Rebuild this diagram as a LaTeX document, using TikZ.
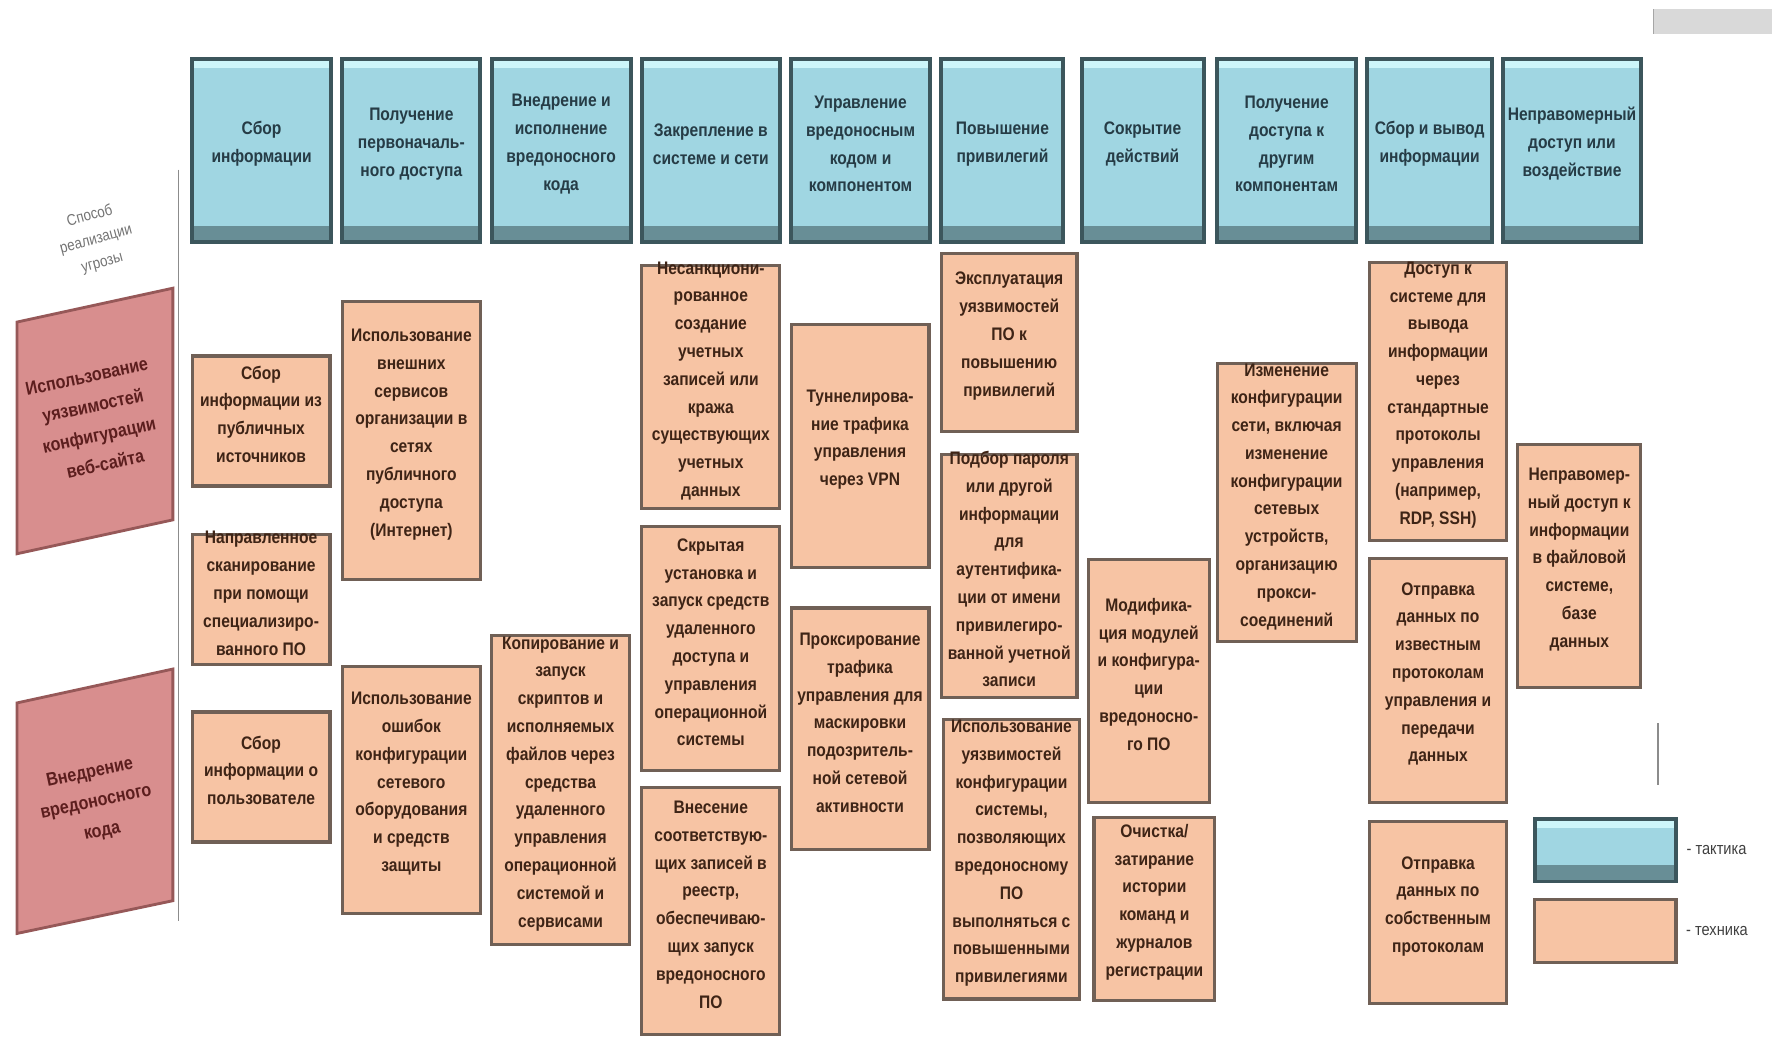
\documentclass[tikz,border=0pt]{standalone}
\usepackage{fontspec}
\setmainfont{Liberation Sans}[FakeStretch=0.86]
\usetikzlibrary{fit,positioning}

\definecolor{tacfill}{RGB}{160,214,226}
\definecolor{tactop}{RGB}{205,246,250}
\definecolor{tacbot}{RGB}{104,142,150}
\definecolor{tacedge}{RGB}{60,86,92}
\definecolor{tactext}{RGB}{38,60,70}
\definecolor{techfill}{RGB}{247,196,164}
\definecolor{techedge}{RGB}{112,96,86}
\definecolor{techtext}{RGB}{62,36,22}
\definecolor{methfill}{RGB}{216,142,142}
\definecolor{methedge}{RGB}{150,88,88}
\definecolor{methtext}{RGB}{92,30,30}

\newcommand{\boxfont}{\fontsize{6.4}{9.8}\selectfont\bfseries}

\tikzset{
  tactic/.style={draw=tacedge, line width=1.4pt, fill=tacfill, inner sep=0pt,
    align=center, text=tactext, font=\boxfont,
    path picture={
      \fill[tactop] (path picture bounding box.north west)
        rectangle ([yshift=-0.11cm]path picture bounding box.north east);
      \fill[tacbot] ([yshift=0.2cm]path picture bounding box.south west)
        rectangle (path picture bounding box.south east);
    }},
  tech/.style={draw=techedge, line width=1.1pt, fill=techfill, inner sep=0pt,
    align=center, text=techtext, font=\boxfont},
  method/.style={draw=methedge, line width=1pt, fill=methfill},
  methlabel/.style={align=center, text=methtext, rotate=12,
    font=\fontsize{6.6}{10.5}\selectfont\bfseries},
  legend/.style={inner sep=0pt, text=black!75, font=\fontsize{6}{7}\selectfont}
}

\begin{document}
\begin{tikzpicture}[x=0.014cm, y=-0.014cm]
	\useasboundingbox (0,0) rectangle (1568,917);

	% tactics
	\foreach \xa/\xb/\nm/\txt in {
	  170/293/recon/{Сбор\\информации},
	  303/425/access/{Получение\\первоначаль-\\ного доступа},
	  435/558/exec/{Внедрение и\\исполнение\\вредоносного\\кода},
	  568/690/persist/{Закрепление в\\системе и сети},
	  700/823/control/{Управление\\вредоносным\\кодом и\\компонентом},
	  833/941/privesc/{Повышение\\привилегий},
	  957/1065/evasion/{Сокрытие\\действий},
	  1077/1200/lateral/{Получение\\доступа к\\другим\\компонентам},
	  1210/1320/exfil/{Сбор и вывод\\информации},
	  1330/1452/impact/{Неправомерный\\доступ или\\воздействие}} {
	  \node[tactic, fit={(\xa,52) (\xb,214)}] (\nm) {\txt};
	}

	% ways of threat realisation
	\node[text=black!55, align=center, rotate=15, font=\fontsize{5.5}{8.5}\selectfont] (way) at (85,212) {Способ\\реализации\\угрозы};
	\draw[black!45, line width=0.6pt] (158,150) -- (158,815);

	\draw[method] (15,285) -- (153,255) -- (153,460) -- (15,490) -- cycle;
	\node[methlabel] (web) at (85,372) {Использование\\уязвимостей\\конфигурации\\веб-сайта};
	\draw[method] (15,622) -- (153,592) -- (153,797) -- (15,826) -- cycle;
	\node[methlabel] (inject) at (85,710) {Внедрение\\вредоносного\\кода};

	% techniques
	\node[tech, fit={(170,315) (292,430)}] (pubsrc) {Сбор\\информации из\\публичных\\источников};
	\node[tech, fit={(170,473) (292,588)}] (scan) {Направленное\\сканирование\\при помощи\\специализиро-\\ванного ПО};
	\node[tech, fit={(170,630) (292,745)}] (userinfo) {Сбор\\информации о\\пользователе};

	\node[tech, fit={(303,267) (425,513)}] (extsrv) {Использование\\внешних\\сервисов\\организации в\\сетях\\публичного\\доступа\\(Интернет)};
	\node[tech, fit={(303,590) (425,808)}] (misconf) {Использование\\ошибок\\конфигурации\\сетевого\\оборудования\\и средств\\защиты};

	\node[tech, fit={(435,562) (557,836)}] (scripts) {Копирование и\\запуск\\скриптов и\\исполняемых\\файлов через\\средства\\удаленного\\управления\\операционной\\системой и\\сервисами};

	\node[tech, fit={(568,235) (690,450)}] (accounts) {Несанкциони-\\рованное\\создание\\учетных\\записей или\\кража\\существующих\\учетных\\данных};
	\node[tech, fit={(568,466) (690,682)}] (rat) {Скрытая\\установка и\\запуск средств\\удаленного\\доступа и\\управления\\операционной\\системы};
	\node[tech, fit={(568,697) (690,915)}] (registry) {Внесение\\соответствую-\\щих записей в\\реестр,\\обеспечиваю-\\щих запуск\\вредоносного\\ПО};

	\node[tech, fit={(700,287) (822,502)}] (vpn) {Туннелирова-\\ние трафика\\управления\\через VPN};
	\node[tech, fit={(700,538) (822,752)}] (proxy) {Проксирование\\трафика\\управления для\\маскировки\\подозритель-\\ной сетевой\\активности};

	\node[tech, fit={(833,224) (953,382)}] (exploit) {Эксплуатация\\уязвимостей\\ПО к\\повышению\\привилегий};
	\node[tech, fit={(833,402) (953,617)}] (brute) {Подбор пароля\\или другой\\информации\\для\\аутентифика-\\ции от имени\\привилегиро-\\ванной учетной\\записи};
	\node[tech, fit={(835,637) (955,884)}] (sysconf) {Использование\\уязвимостей\\конфигурации\\системы,\\позволяющих\\вредоносному\\ПО\\выполняться с\\повышенными\\привилегиями};

	\node[tech, fit={(963,495) (1070,710)}] (modify) {Модифика-\\ция модулей\\и конфигура-\\ции\\вредоносно-\\го ПО};
	\node[tech, fit={(968,723) (1075,885)}] (wipe) {Очистка/\\затирание\\истории\\команд и\\журналов\\регистрации};

	\node[tech, fit={(1077,322) (1200,568)}] (netconf) {Изменение\\конфигурации\\сети, включая\\изменение\\конфигурации\\сетевых\\устройств,\\организацию\\прокси-\\соединений};

	\node[tech, fit={(1212,232) (1333,478)}] (rdp) {Доступ к\\системе для\\вывода\\информации\\через\\стандартные\\протоколы\\управления\\(например,\\RDP, SSH)};
	\node[tech, fit={(1212,494) (1333,710)}] (known) {Отправка\\данных по\\известным\\протоколам\\управления и\\передачи\\данных};
	\node[tech, fit={(1212,727) (1333,888)}] (own) {Отправка\\данных по\\собственным\\протоколам};

	\node[tech, fit={(1343,393) (1452,608)}] (files) {Неправомер-\\ный доступ к\\информации\\в файловой\\системе,\\базе\\данных};

	% legend
	\draw[black!45, line width=0.6pt] (1467,640) -- (1467,695);
	\node[tactic, fit={(1358,725) (1483,780)}] (legtac) {};
	\node[tech, fit={(1358,796) (1483,852)}] (legtech) {};
	\node[legend, right=0.1cm of legtac] (legtactxt) {- тактика};
	\node[legend, right=0.1cm of legtech] (legtechtxt) {- техника};

	\fill[black!15] (1463,8) rectangle (1568,30);
	\draw[black!35] (1463,8) -- (1463,30);
\end{tikzpicture}
\end{document}
